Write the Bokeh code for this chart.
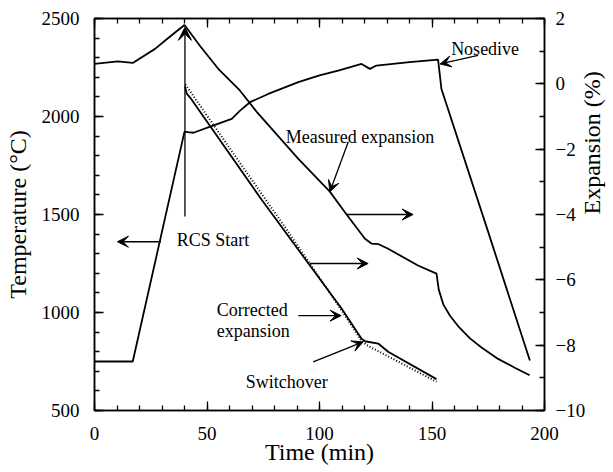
import math
from bokeh.plotting import figure
from bokeh.models import (Range1d, LinearAxis, Arrow, VeeHead, Label, SingleIntervalTicker,
                          CustomJSTickFormatter)
from bokeh.embed import file_html
from bokeh.resources import INLINE

# ---------------- data ----------------
temp_time = [0, 17, 40, 41.5, 44, 52, 61, 64.7, 69.1, 77.2, 90.6, 100, 108.3,
             118.7, 122.4, 125.3, 140, 152.7, 154.2, 175, 193.5]
temp_c = [750, 750, 1923, 1920, 1917, 1951, 1988, 2030, 2073, 2115, 2175, 2210, 2234,
          2268, 2243, 2260, 2277, 2290, 2140, 1410, 755]

meas_time = [0, 10.4, 17, 26.9, 34, 40, 47, 55, 64.7, 72, 90.6, 104.6, 111.3,
             120.2, 123.1, 126.3, 130.5, 143.8, 152, 153, 155, 158, 162,
             167, 172, 179.4, 186.8, 193.4]
meas_exp = [0.61, 0.69, 0.64, 1.07, 1.47, 1.80, 1.15, 0.46, -0.21, -0.85, -2.30, -3.30, -3.93,
            -4.74, -4.89, -4.91, -5.05, -5.56, -5.81, -6.30, -6.75, -7.10, -7.45,
            -7.80, -8.07, -8.42, -8.69, -8.92]

corr_time = [40.2, 41, 42.5, 74.3, 109.8, 118.7, 120.2, 126.1, 130.5, 152]
corr_exp = [-0.08, -0.30, -0.42, -3.55, -6.88, -7.80, -7.88, -7.95, -8.20, -9.04]

corr2_time = [40.4, 62.4, 85, 110, 118.5, 121, 152]
corr2_exp = [-0.02, -2.20, -4.42, -6.95, -7.85, -8.00, -9.12]

x_ticks_major = 50
temp_ticks_major = 500
exp_ticks_major = 2

FONT = "Liberation Serif"

p = figure(frame_width=450, frame_height=392,
           x_range=Range1d(0, 200), y_range=Range1d(500, 2500),
           output_backend="svg", toolbar_location=None,
           min_border_left=94, min_border_top=18, min_border_bottom=50, min_border_right=60,
           background_fill_color="white", border_fill_color="white",
           outline_line_color="black", outline_line_width=1.5)
p.grid.visible = False
p.extra_y_ranges = {"exp": Range1d(-10, 2)}


def style_axis(ax):
    ax.axis_line_width = 1.5
    ax.axis_line_color = "black"
    ax.major_tick_in = 9
    ax.major_tick_out = 0
    ax.minor_tick_in = 5
    ax.minor_tick_out = 0
    ax.major_tick_line_width = 1.3
    ax.minor_tick_line_width = 1.3
    ax.major_tick_line_color = "black"
    ax.minor_tick_line_color = "black"
    ax.major_label_text_font = FONT
    ax.major_label_text_font_size = "19px"
    ax.major_label_text_color = "black"
    ax.axis_label_text_font = FONT
    ax.axis_label_text_font_size = "24px"
    ax.axis_label_text_font_style = "normal"
    ax.axis_label_text_color = "black"


xa = p.xaxis[0]
style_axis(xa)
xa.ticker = SingleIntervalTicker(interval=x_ticks_major, num_minor_ticks=5)
xa.axis_label = "Time (min)"
xa.major_label_standoff = 16
xa.axis_label_standoff = -4

ya = p.yaxis[0]
style_axis(ya)
ya.ticker = SingleIntervalTicker(interval=temp_ticks_major, num_minor_ticks=5)
ya.axis_label = "Temperature (°C)"
ya.major_label_standoff = 15
ya.axis_label_standoff = 8

ra = LinearAxis(y_range_name="exp", ticker=SingleIntervalTicker(interval=exp_ticks_major, num_minor_ticks=2),
                axis_label="Expansion (%)")
style_axis(ra)
ra.major_label_standoff = 11
ra.axis_label_standoff = 4
try:
    ra.axis_label_orientation = math.pi / 2
except Exception:
    pass
p.add_layout(ra, "right")

ta = LinearAxis(ticker=SingleIntervalTicker(interval=x_ticks_major, num_minor_ticks=5),
                formatter=CustomJSTickFormatter(code="return ''"))
style_axis(ta)
ta.major_label_text_font_size = "1px"
ta.major_label_standoff = 0
p.add_layout(ta, "above")

# ---------------- curves ----------------
p.line(temp_time, temp_c, line_color="black", line_width=1.8)
p.line(meas_time, meas_exp, y_range_name="exp", line_color="black", line_width=1.8)
p.line(corr_time, corr_exp, y_range_name="exp", line_color="black", line_width=1.8)
p.line(corr2_time, corr2_exp, y_range_name="exp", line_color="black", line_width=2.0, line_dash="1 2")

# ---------------- annotations ----------------
def arrow(x0, y0, x1, y1, size=11):
    p.add_layout(Arrow(end=VeeHead(size=size, fill_color="black", line_color="black", line_width=1),
                       x_start=x0, y_start=y0, x_end=x1, y_end=y1,
                       line_color="black", line_width=1.3))


arrow(170.5, 2312, 153.6, 2268)          # Nosedive
arrow(112.8, 1871, 104.6, 1616)          # Measured expansion
arrow(112.0, 1500, 141.6, 1500)          # -> right axis
arrow(95.8, 1250, 121.6, 1250)           # -> right axis
arrow(40.2, 1490, 40.2, 2455, size=13)   # RCS start
arrow(29.5, 1361, 10.2, 1361)            # <- left axis
arrow(90.6, 984, 109.6, 984)             # Corrected expansion
arrow(97.2, 748, 119.4, 850)             # Switchover


def label(x, y, text):
    p.add_layout(Label(x=x, y=y, text=text, text_font=FONT, text_font_size="18px",
                       text_color="black", text_align="left", text_baseline="alphabetic"))


label(158.5, 2345, "Nosedive")
label(85.0, 1895, "Measured expansion")
label(36.5, 1368, "RCS Start")
label(54.3, 1012, "Corrected")
label(54.3, 908, "expansion")
label(67.2, 646, "Switchover")

open("out.html", "w").write(file_html(p, INLINE))
